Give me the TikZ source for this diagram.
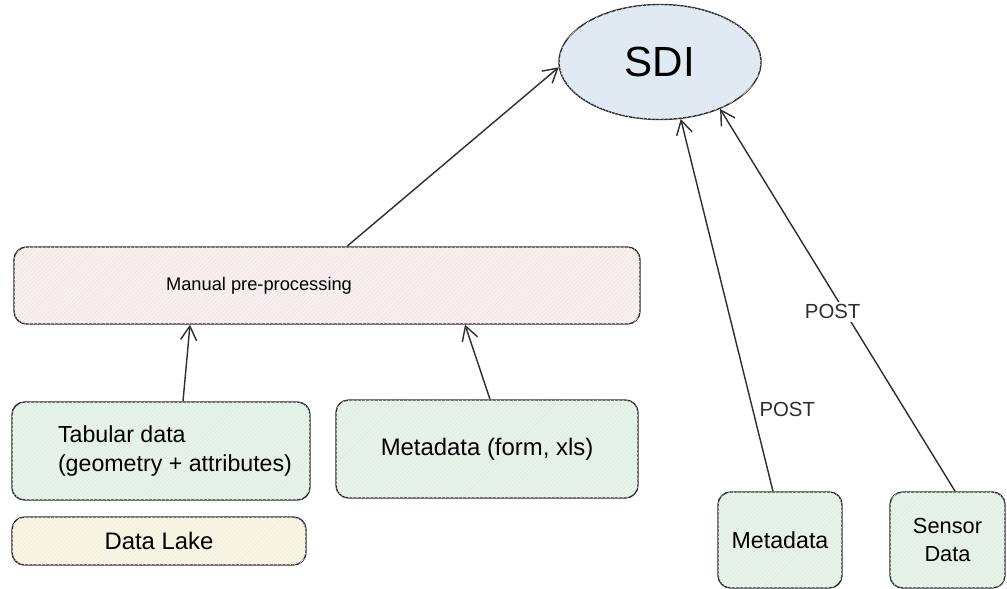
\documentclass[tikz,border=0pt]{standalone}
\usepackage{fontspec}
\setmainfont{Liberation Sans}
\usepackage{xcolor}
\usepackage{tikz}
\usetikzlibrary{arrows.meta,positioning,shapes.geometric,patterns}

\definecolor{inkline}{HTML}{2E2E2E}
\definecolor{sdiblue}{HTML}{DFEBF5}
\definecolor{prepink}{HTML}{FBEFEF}
\definecolor{srcgreen}{HTML}{E7F4EA}
\definecolor{lakeyellow}{HTML}{FAF6E1}

\begin{document}
\begin{tikzpicture}[
        box/.style={draw=inkline, line width=1pt, rounded corners=9pt, align=center,
                    font=\fontsize{16.5}{20}\selectfont},
        hatch/.style={postaction={pattern=north east lines, pattern color=#1}},
        srcbox/.style={box, fill=srcgreen, hatch=green!35!black!12},
        link/.style={draw=inkline, line width=1pt, -{Straight Barb[length=3.5mm,width=4mm]}},
        postlbl/.style={font=\fontsize{14.5}{17}\selectfont, text=inkline}
    ]
            \useasboundingbox (0,0) rectangle (25.175,14.725);
            \fill[white] (0,0) rectangle (25.175,14.725);

            \node[ellipse, draw=inkline, line width=1pt, fill=sdiblue, hatch=blue!30!black!10,
                  minimum width=5.05cm, minimum height=2.875cm,
                  font=\fontsize{30}{34}\selectfont] (sdi) at (16.5,13.175) {SDI};

            \node[box, fill=prepink, hatch=red!30!black!10, minimum width=15.65cm, minimum height=1.925cm]
                  (prep) at (8.175,7.5875) {};
            \node[font=\fontsize{13}{16}\selectfont] (preptext) at ([xshift=-1.7cm]prep.center)
                  {Manual pre-processing};

            \node[srcbox, minimum width=7.45cm, minimum height=2.45cm] (tab) at (4.025,3.45) {};
            \node[align=left, font=\fontsize{16.5}{21}\selectfont] (tabtext)
                  at ([xshift=0.35cm]tab.center) {Tabular data\\(geometry + attributes)};
            \node[box, fill=lakeyellow, hatch=yellow!30!black!10, minimum width=7.35cm, minimum height=1.2cm,
                  font=\fontsize{17}{20}\selectfont] (lake) at (3.975,1.2) {Data Lake};
            \node[srcbox, minimum width=7.55cm, minimum height=2.45cm,
                  font=\fontsize{17}{20}\selectfont] (metaform) at (12.175,3.5) {Metadata (form, xls)};

            \node[srcbox, minimum width=3.1cm, minimum height=2.4cm]
                  (meta) at (19.5,1.225) {Metadata};
            \node[srcbox, minimum width=2.875cm, minimum height=2.4cm,
                  font=\fontsize{15.5}{19.5}\selectfont] (sensor) at (23.6875,1.225) {Sensor\\Data};

            % feeds into the pre-processing step
            \draw[link] ([xshift=0.55cm]tab.north) -- ([xshift=-3.425cm]prep.south);
            \draw[link] ([xshift=0.075cm]metaform.north) -- ([xshift=3.45cm]prep.south);

            % everything ends up in the SDI
            \draw[link] ([xshift=0.5cm]prep.north) -- (sdi.183);
            \draw[link] ([xshift=-0.175cm]meta.north) -- node[postlbl, pos=0.22, right=1pt] {POST} (sdi.290);
            \draw[link] ([xshift=0.19cm]sensor.north) -- node[postlbl, pos=0.47, fill=white, inner sep=2pt, xshift=-0.3cm] {POST} (sdi.322);
        \end{tikzpicture}
\end{document}
